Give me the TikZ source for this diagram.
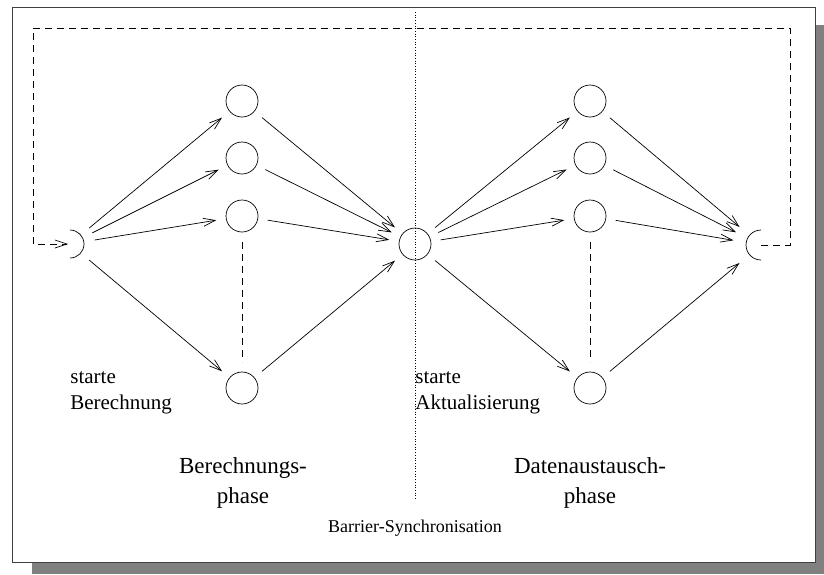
\documentclass[tikz,border=0pt]{standalone}
\usepackage{fontspec}
\setmainfont{Liberation Serif}
\usetikzlibrary{arrows.meta}

\begin{document}
\begin{tikzpicture}[
		x=1pt, y=-1pt,
		line width=0.7pt,
		knoten/.style={circle, draw, minimum size=32pt, inner sep=0pt, outer sep=10pt},
		pfeil/.style={-{Straight Barb[length=12pt, width=8pt]}},
		klein/.style={font=\fontsize{21}{26}\selectfont, align=left, inner sep=0pt},
		gross/.style={font=\fontsize{23}{30}\selectfont, align=center, inner sep=0pt},
		strich/.style={dash pattern=on 7pt off 5pt}
	]
		\useasboundingbox (0,0) rectangle (824,574);

		% Rahmen mit Schatten
		\fill[black!50] (32,25) rectangle (824,574);
		\draw[fill=white, draw=black!75] (12,7) rectangle (815,562);

		% Spaltenpositionen
		\def\xa{242}
		\def\xb{590}

		% Start, Barriere, Ende
		\coordinate (start) at (70,244);
		\node[knoten] (sync) at (415,244) {};
		\coordinate (ende) at (761,245);
		\draw (start) ++(0,-14) arc[start angle=-90, end angle=90, radius=14];
		\draw (ende) ++(0,-15) arc[start angle=-90, end angle=-270, radius=15];

		% Berechnungsphase
		\node[knoten] (c1) at (\xa,101) {};
		\node[knoten] (c2) at (\xa,158) {};
		\node[knoten] (c3) at (\xa,216) {};
		\node[knoten] (c4) at (\xa,388) {};

		% Datenaustauschphase
		\node[knoten] (d1) at (\xb,101) {};
		\node[knoten] (d2) at (\xb,158) {};
		\node[knoten] (d3) at (\xb,216) {};
		\node[knoten] (d4) at (\xb,388) {};

		\draw[strich] (c3.south) -- (c4.north);
		\draw[strich] (d3.south) -- (d4.north);

		% Verbindungen
		\foreach \n in {c1,c2,c3,c4} {
			\draw[pfeil, shorten <=25pt] (start) -- (\n);
			\draw[pfeil] (\n) -- (sync);
		}
		\foreach \n in {d1,d2,d3,d4} {
			\draw[pfeil] (sync) -- (\n);
			\draw[pfeil, shorten >=28pt] (\n) -- (ende);
		}

		% Rueckkopplung
		\coordinate (r1) at (790,245);
		\coordinate (r2) at (790,28);
		\coordinate (l1) at (33,28);
		\coordinate (l2) at (33,244);
		\draw[strich, pfeil, shorten >=2pt] (ende) -- (r1) -- (r2) -- (l1) -- (l2) -- (start);

		% Barriere
		\coordinate (bo) at (415,12);
		\coordinate (bu) at (415,500);
		\draw[dotted] (bo) -- (bu);

		% Beschriftungen
		\node[klein, anchor=north west] (txa) at (70,371) {starte\\Berechnung};
		\node[klein, anchor=north west] (txb) at (415,371) {starte\\Aktualisierung};
		\node[gross] (pha) at (243,483) {Berechnungs-\\phase};
		\node[gross] (phb) at (590,483) {Datenaustausch-\\phase};
		\node[font=\fontsize{18}{21}\selectfont] (bar) at (415,528) {Barrier-Synchronisation};
	\end{tikzpicture}
\end{document}
